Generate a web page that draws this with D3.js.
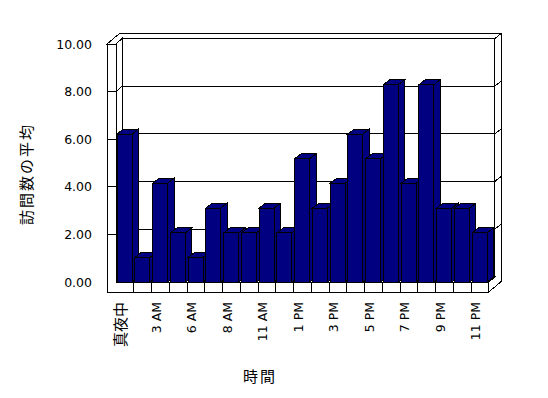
<!DOCTYPE html>
<html>
<head>
<meta charset="utf-8">
<script src="https://cdn.jsdelivr.net/npm/d3@7"></script>
<style>
  body { margin: 0; background: #fff; }
  svg { display: block; }
  .frame path { fill: #fff; stroke: #000; stroke-width: 1; shape-rendering: crispEdges; }
  .grid path { fill: none; stroke: #000; stroke-width: 1; shape-rendering: crispEdges; }
  .bar path { fill: #000080; stroke: #000; stroke-width: 1; shape-rendering: crispEdges; }
  .axis text { font-family: "DejaVu Sans", "Noto Sans CJK JP", sans-serif; font-size: 12.5px; fill: #000; }
  .title { font-family: "Noto Sans CJK JP", sans-serif; font-size: 15px; fill: #000; }
</style>
</head>
<body>
<script>
// hours shown on the chart (only every other one gets a label)
var categories = ["真夜中", "1 AM", "3 AM", "4 AM", "6 AM", "7 AM", "8 AM", "9 AM", "11 AM", "12 PM",
                  "1 PM", "2 PM", "3 PM", "4 PM", "5 PM", "6 PM", "7 PM", "8 PM", "9 PM", "10 PM", "11 PM"];
// average visits per hour
var visits = [6.22, 1.04, 4.15, 2.07, 1.04, 3.11, 2.07, 2.07, 3.11, 2.07, 5.18,
              3.11, 4.15, 6.22, 5.18, 8.29, 4.15, 8.29, 3.11, 3.11, 2.07];
var yTicks = [0, 2, 4, 6, 8, 10];
var xTickLabels = ["真夜中", "3 AM", "6 AM", "8 AM", "11 AM", "1 PM", "3 PM", "5 PM", "7 PM", "9 PM", "11 PM"];

(function(){
    var width = 548, height = 398;

    var svg = d3.select("body").append("svg")
        .attr("width", width)
        .attr("height", height);

    //front plane scales
    var x = d3.scaleBand()
        .domain(categories)
        .range([116, 488.75])
        .padding(0);
    var y = d3.scaleLinear()
        .domain([0, 10])
        .range([282.3, 44]);

    var x0 = x.range()[0], x1 = x.range()[1],
        y0 = y(0), y1 = y(10),
        wallLeft = 107, floorBottom = 292,
        D = [6, -5.5],       // front of back wall
        Dt = [12.5, -10.5],  // rear of back wall
        B = [6.5, -5];       // bar depth

    function poly(pts){
        return "M" + pts.map(function(p){ return p[0] + "," + p[1]; }).join("L") + "Z";
    }

    var frame = svg.append("g").attr("class", "frame");

    //back wall face
    frame.append("path").attr("d", poly([
        [x0 + D[0], y1 + D[1]], [x1 + D[0], y1 + D[1]],
        [x1 + D[0], y0 + D[1]], [x0 + D[0], y0 + D[1]]]));
    //top of left wall + back wall
    frame.append("path").attr("d", poly([
        [wallLeft, y1], [x0, y1], [x0 + D[0], y1 + D[1]], [x1 + D[0], y1 + D[1]],
        [x1 + Dt[0], y1 + Dt[1]], [wallLeft + Dt[0], y1 + Dt[1]]]));
    //right side of back wall + floor
    frame.append("path").attr("d", poly([
        [x1, y0], [x1, floorBottom], [x1 + Dt[0], floorBottom + Dt[1]],
        [x1 + Dt[0], y1 + Dt[1]], [x1 + D[0], y1 + D[1]], [x1 + D[0], y0 + D[1]]]));
    //inner face of left wall
    frame.append("path").attr("d", poly([
        [x0, y1], [x0 + D[0], y1 + D[1]], [x0 + D[0], y0 + D[1]], [x0, y0]]));
    //floor top
    frame.append("path").attr("d", poly([
        [x0, y0], [x1, y0], [x1 + D[0], y0 + D[1]], [x0 + D[0], y0 + D[1]]]));
    //front face of left wall + floor
    frame.append("path").attr("d", poly([
        [wallLeft, y1], [x0, y1], [x0, y0], [x1, y0], [x1, floorBottom], [wallLeft, floorBottom]]));

    //category dividers on floor front
    frame.selectAll(".divider")
        .data(categories.slice(1))
        .enter()
        .append("path")
        .attr("class", "divider")
        .attr("d", function(d){
            return "M" + x(d) + "," + y0 + "L" + x(d) + "," + floorBottom;
        });

    //gridlines wrapping the walls
    svg.append("g").attr("class", "grid")
        .selectAll("path")
        .data(yTicks.filter(function(t){ return t > 0 && t < 10; }))
        .enter()
        .append("path")
        .attr("d", function(t){
            var yy = y(t);
            return "M" + wallLeft + "," + yy + "L" + x0 + "," + yy +
                "L" + (x0 + D[0]) + "," + (yy + D[1]) +
                "L" + (x1 + D[0]) + "," + (yy + D[1]) +
                "L" + (x1 + Dt[0]) + "," + (yy + Dt[1]);
        });

    //3d bars, left to right
    var bw = x.bandwidth() - 2.75;
    var bars = svg.selectAll(".bar")
        .data(categories.map(function(c, i){ return {cat: c, value: visits[i]}; }))
        .enter()
        .append("g")
        .attr("class", "bar");

    bars.append("path").attr("d", function(d){
        var bx = x(d.cat) + 1, top = y(d.value);
        return poly([[bx + bw, top], [bx + bw + B[0], top + B[1]], [bx + bw + B[0], y0 + B[1]], [bx + bw, y0]]);
    });
    bars.append("path").attr("d", function(d){
        var bx = x(d.cat) + 1, top = y(d.value);
        return poly([[bx, top], [bx + bw, top], [bx + bw + B[0], top + B[1]], [bx + B[0], top + B[1]]]);
    });
    bars.append("path").attr("d", function(d){
        var bx = x(d.cat) + 1, top = y(d.value);
        return poly([[bx, top], [bx + bw, top], [bx + bw, y0], [bx, y0]]);
    });

    //value axis labels
    var yAxis = svg.append("g")
        .attr("class", "axis")
        .attr("transform", "translate(92,0)")
        .call(d3.axisLeft(y).tickValues(yTicks).tickSize(0).tickPadding(0)
            .tickFormat(function(d){ return d.toFixed(2); }));
    yAxis.select(".domain").remove();

    //category labels, rotated
    var xAxis = svg.append("g")
        .attr("class", "axis")
        .attr("transform", "translate(-4,302)")
        .call(d3.axisBottom(x).tickValues(xTickLabels).tickSize(0));
    xAxis.select(".domain").remove();
    xAxis.selectAll("text")
        .attr("transform", "rotate(-90)")
        .attr("x", 0)
        .attr("y", 0)
        .attr("dy", "0.35em")
        .style("text-anchor", "end")
        .style("font-size", function(d){ return /[^\x00-\x7f]/.test(d) ? "15px" : null; });

    //axis titles
    svg.append("text")
        .attr("class", "title")
        .attr("x", 260)
        .attr("y", 382)
        .attr("text-anchor", "middle")
        .style("letter-spacing", "2px")
        .text("時間");

    svg.append("text")
        .attr("class", "title")
        .attr("transform", "translate(32,174) rotate(-90)")
        .attr("text-anchor", "middle")
        .style("letter-spacing", "2px")
        .text("訪問数の平均");
})();
</script>
</body>
</html>
